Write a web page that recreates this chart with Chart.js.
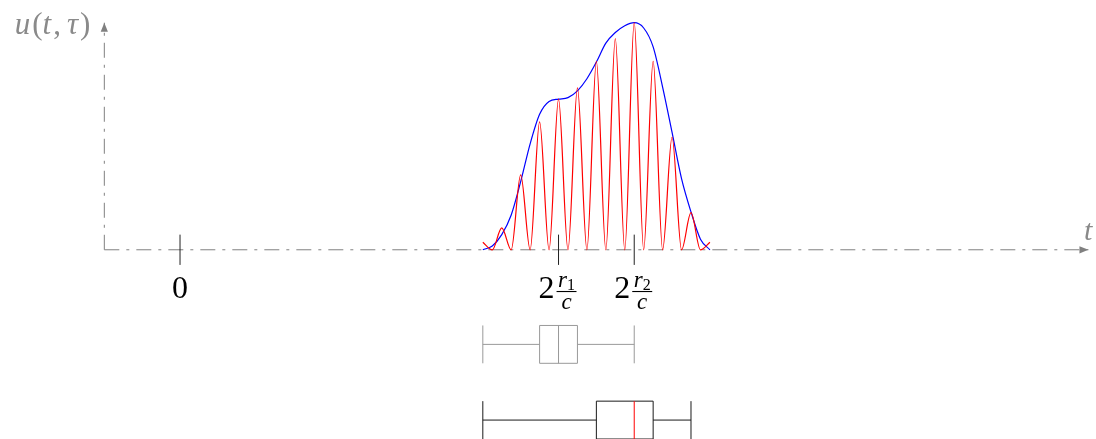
<!DOCTYPE html>
<html>
<head>
<meta charset="utf-8">
<title>u(t, τ)</title>
<script src="https://cdn.jsdelivr.net/npm/chart.js@4.4.1/dist/chart.umd.min.js"></script>
<style>
  html, body { margin: 0; padding: 0; background: #fff; }
  #wrap { width: 1096px; height: 439px; }
</style>
</head>
<body>
<div id="wrap"><canvas id="pulse"></canvas></div>
<script>
// --- 1. DATA ---
// sample times of the received echo (same grid for both curves)
const tSamples = [4, 4.125, 4.25, 4.375, 4.5, 4.625, 4.75, 4.875, 5, 5.125, 5.25, 5.375, 5.5,
                  5.625, 5.75, 5.875, 6, 6.125, 6.25, 6.375, 6.5, 6.625, 6.75, 6.875, 7];
// envelope of the echo (blue)
const envelope = [0, 0.05, 0.2, 0.46, 0.9, 1.4, 1.79, 1.96, 1.99, 2.01, 2.1, 2.26, 2.48,
                  2.73, 2.87, 2.96, 3.0, 2.93, 2.68, 2.15, 1.55, 0.94, 0.5, 0.14, 0];
// echo itself, peaks and zeros (red)
const echo = [0.1, 0, 0.29, 0, 0.99, 0, 1.69, 0, 1.99, 0, 2.14, 0, 2.49,
              0, 2.79, 0, 3.0, 0, 2.49, 0, 1.49, 0, 0.49, 0, 0.1];

// ticks on the time axis
const tickValues = [0, 5, 6];
const tickLabels = [
  { coef: '0' },
  { coef: '2', num: 'r', sub: '1', den: 'c' },
  { coef: '2', num: 'r', sub: '2', den: 'c' }
];

// box plots: whisker min, q1, median, q3, whisker max
const boxMin = [4, 4];
const boxQ1 = [4.75, 5.5];
const boxMedian = [5, 6];
const boxQ3 = [5.25, 6.25];
const boxMax = [6, 6.75];

// axis extent (data units)
const axisOrigin = -1;
const tAxisEnd = 12;
const uAxisEnd = 3;

// --- 2. STYLE / LAYOUT ---
const AXIS_GREY = '#808080';
const LABEL_GREY = '#8a8a8a';
const TICK_COLOR = '#222222';
const DASH_DOT = [15, 7, 3, 7];
const boxRowY = [-1.25, -2.25];
const boxHalf = 0.25;
const boxColors = ['#999999', '#1a1a1a'];
const medianColors = ['#999999', '#ff0000'];
const SERIF = '"Liberation Serif", "DejaVu Serif", serif';

// --- 3. DATASETS ---
const pts = (xs, ys) => xs.map((x, i) => ({ x: x, y: ys[i] }));
const seg = (x1, y1, x2, y2) => [{ x: x1, y: y1 }, { x: x2, y: y2 }];

function lineSet(data, color, extra) {
  return Object.assign({
    data: data, showLine: true, borderColor: color, borderWidth: 1,
    pointRadius: 0, pointHoverRadius: 0, fill: false, order: 3
  }, extra || {});
}

const datasets = [];
datasets.push(lineSet(pts(tSamples, echo), '#ff0000', { cubicInterpolationMode: 'monotone', borderWidth: 1.2, order: 0 }));
datasets.push(lineSet(pts(tSamples, envelope), '#0000ff', { cubicInterpolationMode: 'monotone', borderWidth: 1.2, order: 1 }));

// dash-dot axes
datasets.push(lineSet(seg(axisOrigin, 0, tAxisEnd, 0), AXIS_GREY, { borderDash: DASH_DOT, order: 6 }));
datasets.push(lineSet(seg(axisOrigin, 0, axisOrigin, uAxisEnd), AXIS_GREY, { borderDash: DASH_DOT, order: 6 }));

// tick marks
tickValues.forEach(v => {
  datasets.push(lineSet(seg(v, -0.2, v, 0.2), TICK_COLOR, { order: 4 }));
});

// box plots built from the stats arrays
boxMin.forEach((_, i) => {
  const yc = boxRowY[i], lo = yc - boxHalf, hi = yc + boxHalf, col = boxColors[i];
  const parts = [
    seg(boxMin[i], yc, boxQ1[i], yc),
    seg(boxQ3[i], yc, boxMax[i], yc),
    seg(boxMin[i], lo, boxMin[i], hi),
    seg(boxMax[i], lo, boxMax[i], hi),
    seg(boxQ1[i], hi, boxQ3[i], hi),
    seg(boxQ1[i], lo, boxQ3[i], lo),
    seg(boxQ1[i], lo, boxQ1[i], hi),
    seg(boxQ3[i], lo, boxQ3[i], hi)
  ];
  parts.forEach(p => datasets.push(lineSet(p, col, { order: 3 })));
  datasets.push(lineSet(seg(boxMedian[i], lo, boxMedian[i], hi), medianColors[i], { order: 2 }));
});

// --- 4. ARROWS AND TEXT ---
function arrowHead(ctx, x, y, dx, dy) {
  const len = 9, half = 3.6;
  ctx.beginPath();
  ctx.moveTo(x, y);
  ctx.lineTo(x - dx * len - dy * half, y - dy * len + dx * half);
  ctx.lineTo(x - dx * len + dy * half, y - dy * len - dx * half);
  ctx.closePath();
  ctx.fill();
}

// draws mixed upright/italic pieces left to right
function drawRuns(ctx, runs, x, y, size) {
  runs.forEach(r => {
    ctx.font = (r.italic ? 'italic ' : '') + size + 'px ' + SERIF;
    ctx.fillText(r.text, x, y);
    x += ctx.measureText(r.text).width + (r.gap || 0);
  });
}

function runsWidth(ctx, runs, size) {
  let w = 0;
  runs.forEach(r => {
    ctx.font = (r.italic ? 'italic ' : '') + size + 'px ' + SERIF;
    w += ctx.measureText(r.text).width + (r.gap || 0);
  });
  return w;
}

const decorations = {
  id: 'decorations',
  afterDatasetsDraw(chart) {
    const { ctx, scales: { x, y } } = chart;
    const ox = x.getPixelForValue(axisOrigin), oy = y.getPixelForValue(0);
    ctx.save();

    // arrow heads
    ctx.fillStyle = AXIS_GREY;
    arrowHead(ctx, x.getPixelForValue(tAxisEnd), oy, 1, 0);
    arrowHead(ctx, ox, y.getPixelForValue(uAxisEnd), 0, -1);

    // axis names
    ctx.fillStyle = LABEL_GREY;
    ctx.textBaseline = 'alphabetic';
    ctx.textAlign = 'left';
    const uName = [
      { text: 'u', italic: true, gap: 2 }, { text: '(' }, { text: 't', italic: true, gap: 2 },
      { text: ',', gap: 6 }, { text: 'τ', italic: true, gap: 2 }, { text: ')' }
    ];
    const nameSize = 31;
    drawRuns(ctx, uName, ox - 14 - runsWidth(ctx, uName, nameSize), y.getPixelForValue(uAxisEnd) + 11, nameSize);
    ctx.font = 'italic 30px ' + SERIF;
    ctx.textAlign = 'right';
    ctx.fillText('t', x.getPixelForValue(tAxisEnd) + 4, oy - 10);

    // tick labels
    ctx.fillStyle = '#000';
    tickValues.forEach((v, i) => {
      const lab = tickLabels[i];
      const px = x.getPixelForValue(v);
      ctx.font = '32px ' + SERIF;
      const coefW = ctx.measureText(lab.coef).width;
      if (!lab.num) {
        ctx.textAlign = 'center';
        ctx.fillText(lab.coef, px, oy + 48);
        return;
      }
      ctx.textAlign = 'left';
      ctx.font = 'italic 23px ' + SERIF;
      const rW = ctx.measureText(lab.num).width;
      const dW = ctx.measureText(lab.den).width;
      ctx.font = '16px ' + SERIF;
      const sW = ctx.measureText(lab.sub).width;
      const numW = rW + sW;
      const barW = Math.max(numW, dW) + 3;
      const total = coefW + 2 + barW;
      let cx = px - total / 2 - 1;

      ctx.font = '32px ' + SERIF;
      ctx.fillText(lab.coef, cx, oy + 48.5);
      cx += coefW + 2;

      // fraction bar
      ctx.fillRect(cx, oy + 41.2, barW, 1.1);
      const nx = cx + (barW - numW) / 2;
      ctx.font = 'italic 23px ' + SERIF;
      ctx.fillText(lab.num, nx, oy + 37.5);
      ctx.font = '16px ' + SERIF;
      ctx.fillText(lab.sub, nx + rW, oy + 40);
      ctx.font = 'italic 23px ' + SERIF;
      ctx.fillText(lab.den, cx + (barW - dW) / 2, oy + 59.5);
    });

    ctx.restore();
  }
};

// --- 5. CHART ---
const ctx = document.getElementById('pulse').getContext('2d');
new Chart(ctx, {
  type: 'scatter',
  data: { datasets: datasets },
  options: {
    responsive: true,
    maintainAspectRatio: false,
    animation: false,
    events: [],
    layout: { padding: 0 },
    scales: {
      x: { type: 'linear', display: false, min: -2.378, max: 12.1 },
      y: { type: 'linear', display: false, min: -2.5, max: 3.3 }
    },
    plugins: { legend: { display: false }, tooltip: { enabled: false } }
  },
  plugins: [decorations]
});
</script>
</body>
</html>
